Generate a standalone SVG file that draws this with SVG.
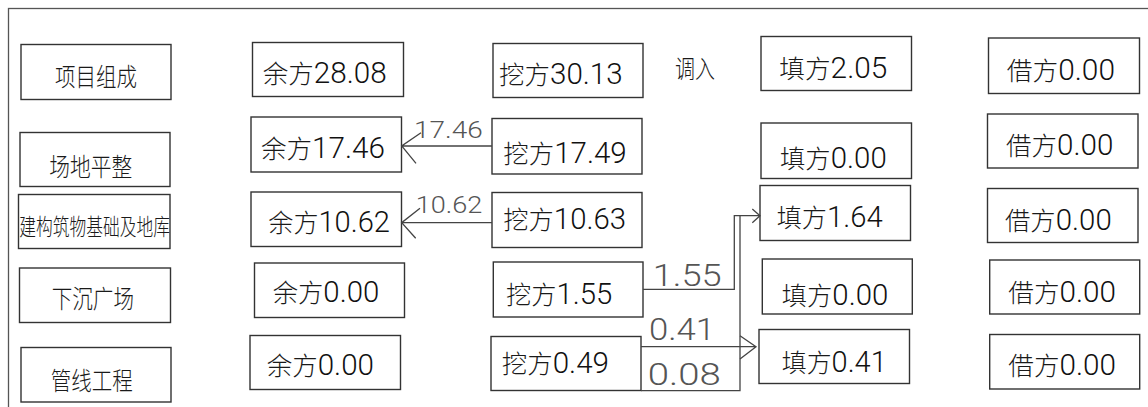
<svg xmlns="http://www.w3.org/2000/svg" width="1148" height="407" viewBox="0 0 1148 407">
<style>
.frame{fill:none;stroke:#555;stroke-width:1.3}
.box{fill:#fff;stroke:#333;stroke-width:1.4}
.t{fill:#1a1a1a;font-family:"Noto Sans CJK SC","Noto Sans CJK JP",sans-serif;font-size:25px;font-weight:300}
.v{fill:#1a1a1a;font-family:"Noto Sans CJK SC",sans-serif;font-size:25px;font-weight:300}
.d{font-family:Roboto,"Liberation Sans",sans-serif;font-size:29px;font-weight:300;fill:#111}
.conn{fill:none;stroke:#444;stroke-width:1.3}
.lbl{fill:#555;font-family:Roboto,"Liberation Sans",sans-serif;font-weight:300}
</style>
<rect class="frame" x="8.5" y="8.5" width="1300" height="500"/>

<g id="label-xiangmu"><rect class="box" x="21" y="44.5" width="150" height="55"/><text class="t" x="55" y="86" textLength="82" lengthAdjust="spacingAndGlyphs">项目组成</text></g>
<g id="label-changdi"><rect class="box" x="20" y="132.5" width="150" height="54"/><text class="t" x="49.3" y="176" textLength="83" lengthAdjust="spacingAndGlyphs">场地平整</text></g>
<g id="label-jiangou"><rect class="box" x="18.5" y="194.5" width="151.5" height="54"/><text class="t" x="19.3" y="234.5" textLength="150.7" lengthAdjust="spacingAndGlyphs" style="font-size:23px">建构筑物基础及地库</text></g>
<g id="label-xiachen"><rect class="box" x="19.5" y="268" width="151" height="54.5"/><text class="t" x="51.7" y="308" textLength="82.3" lengthAdjust="spacingAndGlyphs">下沉广场</text></g>
<g id="label-guanxian"><rect class="box" x="21" y="347.5" width="150" height="54.5"/><text class="t" x="50.7" y="390" textLength="82" lengthAdjust="spacingAndGlyphs">管线工程</text></g>

<g id="yu-1"><rect class="box" x="252.5" y="42.5" width="151" height="54"/><text class="v" x="262.7" y="83" textLength="124" lengthAdjust="spacingAndGlyphs">余方<tspan class="d">28.08</tspan></text></g>
<g id="yu-2"><rect class="box" x="251" y="117" width="150.5" height="55"/><text class="v" x="261" y="158" textLength="124" lengthAdjust="spacingAndGlyphs">余方<tspan class="d">17.46</tspan></text></g>
<g id="yu-3"><rect class="box" x="251" y="192" width="150.5" height="54.5"/><text class="v" x="268.3" y="232" textLength="121.7" lengthAdjust="spacingAndGlyphs">余方<tspan class="d">10.62</tspan></text></g>
<g id="yu-4"><rect class="box" x="254.5" y="263" width="150" height="54.5"/><text class="v" x="272.7" y="302" textLength="106.6" lengthAdjust="spacingAndGlyphs">余方<tspan class="d">0.00</tspan></text></g>
<g id="yu-5"><rect class="box" x="250" y="335.5" width="150.5" height="54"/><text class="v" x="266.7" y="375" textLength="107.3" lengthAdjust="spacingAndGlyphs">余方<tspan class="d">0.00</tspan></text></g>

<g id="wa-1"><rect class="box" x="493" y="43.5" width="150" height="54"/><text class="v" x="499" y="84" textLength="123.7" lengthAdjust="spacingAndGlyphs">挖方<tspan class="d">30.13</tspan></text></g>
<g id="wa-2"><rect class="box" x="492" y="118.5" width="150" height="55.5"/><text class="v" x="503.3" y="163" textLength="123.4" lengthAdjust="spacingAndGlyphs">挖方<tspan class="d">17.49</tspan></text></g>
<g id="wa-3"><rect class="box" x="492" y="192.5" width="150" height="55"/><text class="v" x="503.3" y="229" textLength="122.7" lengthAdjust="spacingAndGlyphs">挖方<tspan class="d">10.63</tspan></text></g>
<g id="wa-4"><rect class="box" x="493.3" y="262" width="149.7" height="55"/><text class="v" x="506" y="304" textLength="106.3" lengthAdjust="spacingAndGlyphs">挖方<tspan class="d">1.55</tspan></text></g>
<g id="wa-5"><rect class="box" x="491" y="336.5" width="150" height="54"/><text class="v" x="501.7" y="373" textLength="107.3" lengthAdjust="spacingAndGlyphs">挖方<tspan class="d">0.49</tspan></text></g>

<g id="diaoru"><text class="t" x="675" y="78" textLength="40" lengthAdjust="spacingAndGlyphs">调入</text></g>

<g id="tian-1"><rect class="box" x="761" y="36.5" width="150.5" height="54"/><text class="v" x="779.3" y="78" textLength="108" lengthAdjust="spacingAndGlyphs">填方<tspan class="d">2.05</tspan></text></g>
<g id="tian-2"><rect class="box" x="761" y="123" width="150.5" height="55.5"/><text class="v" x="780" y="168" textLength="106.7" lengthAdjust="spacingAndGlyphs">填方<tspan class="d">0.00</tspan></text></g>
<g id="tian-3"><rect class="box" x="760" y="185.5" width="150.5" height="55"/><text class="v" x="776.7" y="227" textLength="106" lengthAdjust="spacingAndGlyphs">填方<tspan class="d">1.64</tspan></text></g>
<g id="tian-4"><rect class="box" x="762.3" y="259" width="150" height="55"/><text class="v" x="781.7" y="305" textLength="106.6" lengthAdjust="spacingAndGlyphs">填方<tspan class="d">0.00</tspan></text></g>
<g id="tian-5"><rect class="box" x="759" y="329.5" width="150.5" height="54"/><text class="v" x="781.7" y="372" textLength="105" lengthAdjust="spacingAndGlyphs">填方<tspan class="d">0.41</tspan></text></g>

<g id="jie-1"><rect class="box" x="988.5" y="38" width="151" height="55.5"/><text class="v" x="1006.7" y="80" textLength="108.3" lengthAdjust="spacingAndGlyphs">借方<tspan class="d">0.00</tspan></text></g>
<g id="jie-2"><rect class="box" x="987.5" y="114" width="150.5" height="54"/><text class="v" x="1006" y="155" textLength="107.3" lengthAdjust="spacingAndGlyphs">借方<tspan class="d">0.00</tspan></text></g>
<g id="jie-3"><rect class="box" x="987.5" y="188.5" width="150.5" height="54"/><text class="v" x="1005" y="230" textLength="106.7" lengthAdjust="spacingAndGlyphs">借方<tspan class="d">0.00</tspan></text></g>
<g id="jie-4"><rect class="box" x="989.7" y="260" width="150" height="54"/><text class="v" x="1008.3" y="302" textLength="107.7" lengthAdjust="spacingAndGlyphs">借方<tspan class="d">0.00</tspan></text></g>
<g id="jie-5"><rect class="box" x="989.7" y="334.5" width="150" height="54.5"/><text class="v" x="1008.3" y="375" textLength="107.7" lengthAdjust="spacingAndGlyphs">借方<tspan class="d">0.00</tspan></text></g>

<g id="connectors">
<path class="conn" d="M492,146 H401.7 M421,132.7 L401.7,146 L416,163.3"/>
<path class="conn" d="M492,222.7 H401.7 M420,208.3 L401.7,222.7 L415.7,238.3"/>
<path class="conn" d="M643,289.3 H734.3 V215.7 H760 M752.3,209 L760,215.7 L752.3,222.7"/>
<path class="conn" d="M641,390.7 H740 V215.7"/>
<path class="conn" d="M641,346.7 H756 M740,335.7 L756,346.7 L740,359"/>
<text class="lbl" x="414" y="137.7" font-size="24" textLength="68.7" lengthAdjust="spacingAndGlyphs">17.46</text>
<text class="lbl" x="415.7" y="213.3" font-size="24" textLength="66.6" lengthAdjust="spacingAndGlyphs">10.62</text>
<text class="lbl" x="652.7" y="286" font-size="32" textLength="69" lengthAdjust="spacingAndGlyphs">1.55</text>
<text class="lbl" x="649" y="340" font-size="32" textLength="66" lengthAdjust="spacingAndGlyphs">0.41</text>
<text class="lbl" x="647.7" y="385.3" font-size="32" textLength="73" lengthAdjust="spacingAndGlyphs">0.08</text>
</g>
</svg>
